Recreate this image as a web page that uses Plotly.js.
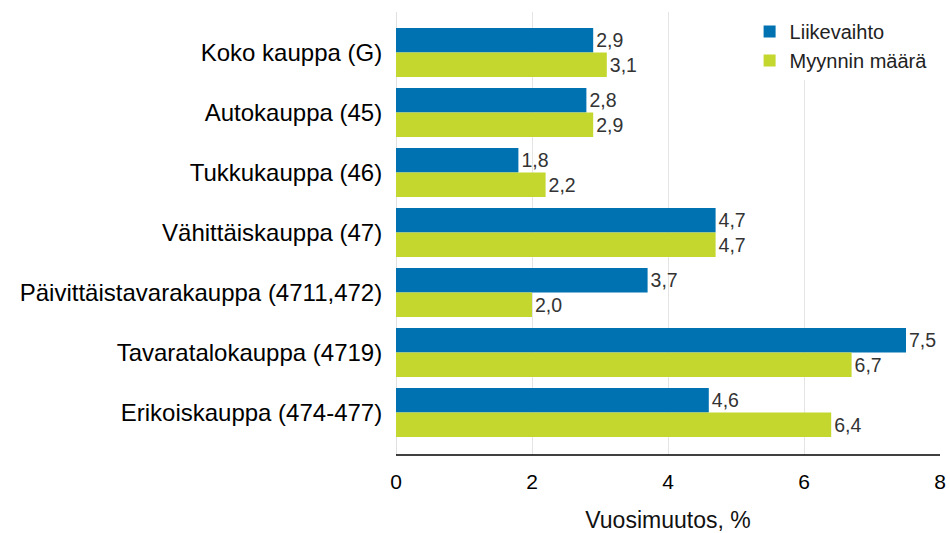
<!DOCTYPE html>
<html>
<head>
<meta charset="utf-8">
<script src="https://cdn.plot.ly/plotly-3.0.1.min.js"></script>
<style>html,body{margin:0;padding:0;background:#fff;}#chart{width:950px;height:533px;}</style>
</head>
<body>
<div id="chart"></div>
<script>
const categories = [
  "Koko kauppa (G)",
  "Autokauppa (45)",
  "Tukkukauppa (46)",
  "Vähittäiskauppa (47)",
  "Päivittäistavarakauppa (4711,472)",
  "Tavaratalokauppa (4719)",
  "Erikoiskauppa (474-477)"
];
const liikevaihto = [2.9, 2.8, 1.8, 4.7, 3.7, 7.5, 4.6];
const myynninMaara = [3.1, 2.9, 2.2, 4.7, 2.0, 6.7, 6.4];
const seriesNames = ["Liikevaihto", "Myynnin määrä"];
const xTicks = [0, 2, 4, 6, 8];

const fmt = v => v.toFixed(1).replace('.', ',');
const FONT = 'Liberation Sans, Arial, sans-serif';

const traces = [
  {
    type: 'bar', orientation: 'h', name: seriesNames[0],
    y: categories, x: liikevaihto,
    marker: {color: '#0072B1'},
    text: liikevaihto.map(fmt), textposition: 'outside', cliponaxis: false,
    textfont: {family: FONT, size: 19.5, color: '#333333'},
    hoverinfo: 'x+name'
  },
  {
    type: 'bar', orientation: 'h', name: seriesNames[1],
    y: categories, x: myynninMaara,
    marker: {color: '#C3D72F'},
    text: myynninMaara.map(fmt), textposition: 'outside', cliponaxis: false,
    textfont: {family: FONT, size: 19.5, color: '#333333'},
    hoverinfo: 'x+name'
  }
];

const layout = {
  width: 950, height: 533,
  margin: {l: 396, r: 10, t: 12, b: 78},
  paper_bgcolor: '#ffffff', plot_bgcolor: '#ffffff',
  font: {family: FONT, color: '#000000'},
  barmode: 'group', bargap: 0.183, bargroupgap: 0,
  showlegend: true,
  legend: {
    x: 0.65, y: 1, xanchor: 'left', yanchor: 'top',
    bgcolor: '#ffffff', font: {size: 20, color: '#222222'},
    traceorder: 'normal', itemwidth: 30, tracegroupgap: 0
  },
  xaxis: {
    range: [0, 8], tickvals: xTicks, ticktext: xTicks.map(String),
    showgrid: true, gridcolor: '#e4e4e4', gridwidth: 1,
    zeroline: true, zerolinecolor: '#e0e0e0', zerolinewidth: 1,
    showline: false,
    ticks: 'outside', ticklen: 8, tickcolor: 'rgba(0,0,0,0)',
    tickfont: {size: 21, color: '#000000'},
    title: {text: 'Vuosimuutos, %', font: {size: 23, color: '#111111'}, standoff: 24},
    fixedrange: true
  },
  yaxis: {
    type: 'category', range: [6.708, -0.675],
    showgrid: false, zeroline: false, showline: false,
    ticks: 'outside', ticklen: 8, tickcolor: 'rgba(0,0,0,0)',
    tickfont: {size: 24, color: '#000000'},
    fixedrange: true
  },
  shapes: [
    {type: 'line', xref: 'paper', yref: 'paper', x0: 0, x1: 1, y0: 0, y1: 0,
     line: {color: '#000000', width: 1.5}}
  ]
};

Plotly.newPlot('chart', traces, layout, {displayModeBar: false, staticPlot: true});
</script>
</body>
</html>
